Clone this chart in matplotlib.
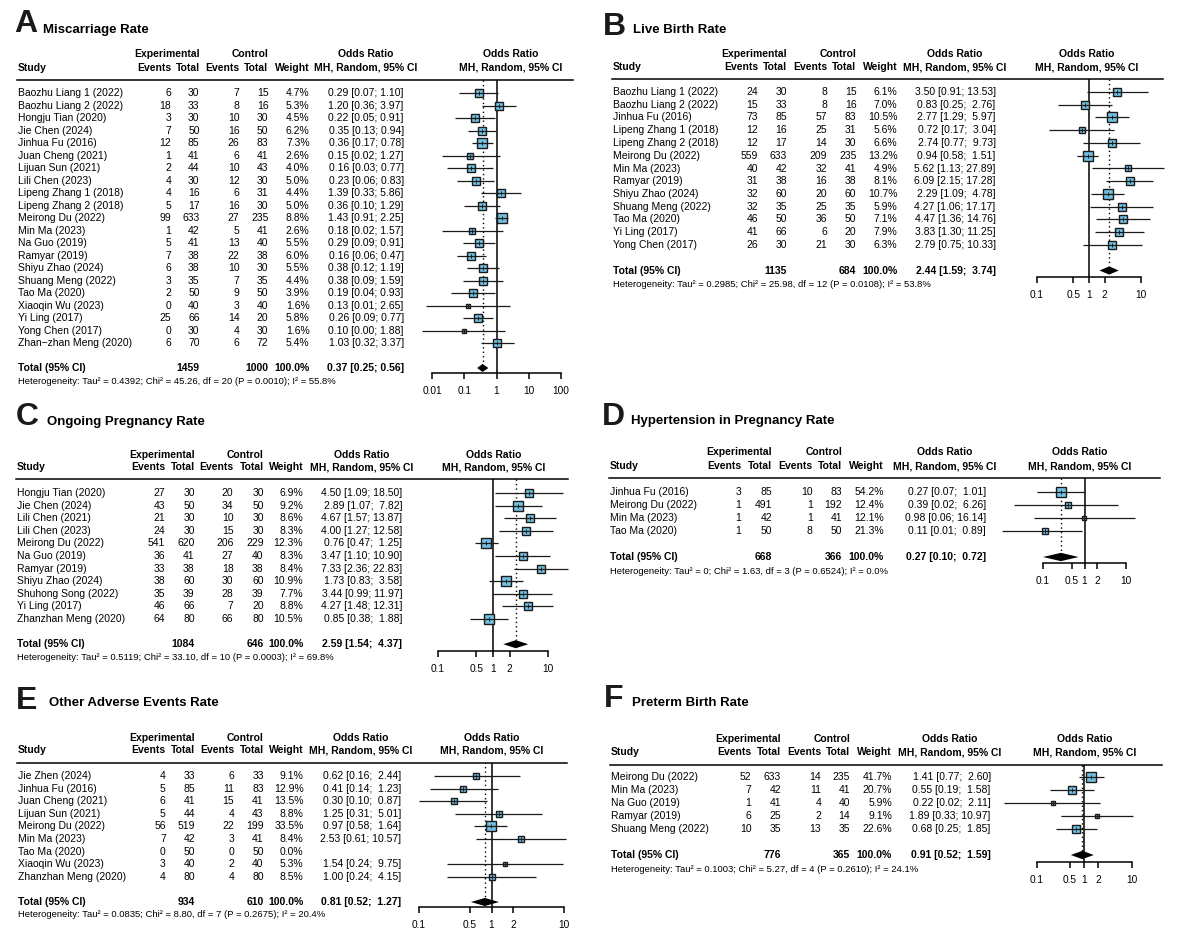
import numpy as np
import matplotlib
matplotlib.use('Agg')
import matplotlib.pyplot as plt
import matplotlib.transforms as mtransforms
from matplotlib.lines import Line2D
from matplotlib.ticker import NullLocator, FixedLocator, FixedFormatter

plt.rcParams['font.family'] = ['Liberation Sans', 'DejaVu Sans']

# ---------------- DATA ----------------
# Panel A: Miscarriage Rate
a_studies = ["Baozhu Liang 1 (2022)", "Baozhu Liang 2 (2022)", "Hongju Tian (2020)", "Jie Chen (2024)",
             "Jinhua Fu (2016)", "Juan Cheng (2021)", "Lijuan Sun (2021)", "Lili Chen (2023)",
             "Lipeng Zhang 1 (2018)", "Lipeng Zhang 2 (2018)", "Meirong Du (2022)", "Min Ma (2023)",
             "Na Guo (2019)", "Ramyar (2019)", "Shiyu Zhao (2024)", "Shuang Meng (2022)", "Tao Ma (2020)",
             "Xiaoqin Wu (2023)", "Yi Ling (2017)", "Yong Chen (2017)", "Zhan\u2212zhan Meng (2020)"]
a_exp_events = [6, 18, 3, 7, 12, 1, 2, 4, 4, 5, 99, 1, 5, 7, 6, 3, 2, 0, 25, 0, 6]
a_exp_total = [30, 33, 30, 50, 85, 41, 44, 30, 16, 17, 633, 42, 41, 38, 38, 35, 50, 40, 66, 30, 70]
a_ctl_events = [7, 8, 10, 16, 26, 6, 10, 12, 6, 16, 27, 5, 13, 22, 10, 7, 9, 3, 14, 4, 6]
a_ctl_total = [15, 16, 30, 50, 83, 41, 43, 30, 31, 30, 235, 41, 40, 38, 30, 35, 50, 40, 20, 30, 72]
a_weight = [4.7, 5.3, 4.5, 6.2, 7.3, 2.6, 4.0, 5.0, 4.4, 5.0, 8.8, 2.6, 5.5, 6.0, 5.5, 4.4, 3.9, 1.6, 5.8, 1.6, 5.4]
a_or = [0.29, 1.20, 0.22, 0.35, 0.36, 0.15, 0.16, 0.23, 1.39, 0.36, 1.43, 0.18, 0.29, 0.16, 0.38, 0.38, 0.19, 0.13, 0.26, 0.10, 1.03]
a_lo = [0.07, 0.36, 0.05, 0.13, 0.17, 0.02, 0.03, 0.06, 0.33, 0.10, 0.91, 0.02, 0.09, 0.06, 0.12, 0.09, 0.04, 0.0066, 0.09, 0.0049, 0.32]
a_hi = [1.10, 3.97, 0.91, 0.94, 0.78, 1.27, 0.77, 0.83, 5.86, 1.29, 2.25, 1.57, 0.91, 0.47, 1.19, 1.59, 0.93, 2.65, 0.77, 1.88, 3.37]
a_totals = [1459, 1000]
a_pooled = [0.37, 0.25, 0.56]
a_het = ["0.4392", 45.26, 20, 0.0010, 55.8]
a_ticks = [0.01, 0.1, 1, 10, 100]

# Panel B: Live Birth Rate
b_studies = ["Baozhu Liang 1 (2022)", "Baozhu Liang 2 (2022)", "Jinhua Fu (2016)", "Lipeng Zhang 1 (2018)",
             "Lipeng Zhang 2 (2018)", "Meirong Du (2022)", "Min Ma (2023)", "Ramyar (2019)", "Shiyu Zhao (2024)",
             "Shuang Meng (2022)", "Tao Ma (2020)", "Yi Ling (2017)", "Yong Chen (2017)"]
b_exp_events = [24, 15, 73, 12, 12, 559, 40, 31, 32, 32, 46, 41, 26]
b_exp_total = [30, 33, 85, 16, 17, 633, 42, 38, 60, 35, 50, 66, 30]
b_ctl_events = [8, 8, 57, 25, 14, 209, 32, 16, 20, 25, 36, 6, 21]
b_ctl_total = [15, 16, 83, 31, 30, 235, 41, 38, 60, 35, 50, 20, 30]
b_weight = [6.1, 7.0, 10.5, 5.6, 6.6, 13.2, 4.9, 8.1, 10.7, 5.9, 7.1, 7.9, 6.3]
b_or = [3.50, 0.83, 2.77, 0.72, 2.74, 0.94, 5.62, 6.09, 2.29, 4.27, 4.47, 3.83, 2.79]
b_lo = [0.91, 0.25, 1.29, 0.17, 0.77, 0.58, 1.13, 2.15, 1.09, 1.06, 1.36, 1.30, 0.75]
b_hi = [13.53, 2.76, 5.97, 3.04, 9.73, 1.51, 27.89, 17.28, 4.78, 17.17, 14.76, 11.25, 10.33]
b_totals = [1135, 684]
b_pooled = [2.44, 1.59, 3.74]
b_het = ["0.2985", 25.98, 12, 0.0108, 53.8]
b_ticks = [0.1, 0.5, 1, 2, 10]

# Panel C: Ongoing Pregnancy Rate
c_studies = ["Hongju Tian (2020)", "Jie Chen (2024)", "Lili Chen (2021)", "Lili Chen (2023)", "Meirong Du (2022)",
             "Na Guo (2019)", "Ramyar (2019)", "Shiyu Zhao (2024)", "Shuhong Song (2022)", "Yi Ling (2017)",
             "Zhanzhan Meng (2020)"]
c_exp_events = [27, 43, 21, 24, 541, 36, 33, 38, 35, 46, 64]
c_exp_total = [30, 50, 30, 30, 620, 41, 38, 60, 39, 66, 80]
c_ctl_events = [20, 34, 10, 15, 206, 27, 18, 30, 28, 7, 66]
c_ctl_total = [30, 50, 30, 30, 229, 40, 38, 60, 39, 20, 80]
c_weight = [6.9, 9.2, 8.6, 8.3, 12.3, 8.3, 8.4, 10.9, 7.7, 8.8, 10.5]
c_or = [4.50, 2.89, 4.67, 4.00, 0.76, 3.47, 7.33, 1.73, 3.44, 4.27, 0.85]
c_lo = [1.09, 1.07, 1.57, 1.27, 0.47, 1.10, 2.36, 0.83, 0.99, 1.48, 0.38]
c_hi = [18.50, 7.82, 13.87, 12.58, 1.25, 10.90, 22.83, 3.58, 11.97, 12.31, 1.88]
c_totals = [1084, 646]
c_pooled = [2.59, 1.54, 4.37]
c_het = ["0.5119", 33.10, 10, 0.0003, 69.8]
c_ticks = [0.1, 0.5, 1, 2, 10]

# Panel D: Hypertension in Pregnancy Rate
d_studies = ["Jinhua Fu (2016)", "Meirong Du (2022)", "Min Ma (2023)", "Tao Ma (2020)"]
d_exp_events = [3, 1, 1, 1]
d_exp_total = [85, 491, 42, 50]
d_ctl_events = [10, 1, 1, 8]
d_ctl_total = [83, 192, 41, 50]
d_weight = [54.2, 12.4, 12.1, 21.3]
d_or = [0.27, 0.39, 0.98, 0.11]
d_lo = [0.07, 0.02, 0.06, 0.01]
d_hi = [1.01, 6.26, 16.14, 0.89]
d_totals = [668, 366]
d_pooled = [0.27, 0.10, 0.72]
d_het = ["0", 1.63, 3, 0.6524, 0.0]
d_ticks = [0.1, 0.5, 1, 2, 10]

# Panel E: Other Adverse Events Rate
e_studies = ["Jie Zhen (2024)", "Jinhua Fu (2016)", "Juan Cheng (2021)", "Lijuan Sun (2021)", "Meirong Du (2022)",
             "Min Ma (2023)", "Tao Ma (2020)", "Xiaoqin Wu (2023)", "Zhanzhan Meng (2020)"]
e_exp_events = [4, 5, 6, 5, 56, 7, 0, 3, 4]
e_exp_total = [33, 85, 41, 44, 519, 42, 50, 40, 80]
e_ctl_events = [6, 11, 15, 4, 22, 3, 0, 2, 4]
e_ctl_total = [33, 83, 41, 43, 199, 41, 50, 40, 80]
e_weight = [9.1, 12.9, 13.5, 8.8, 33.5, 8.4, 0.0, 5.3, 8.5]
e_or = [0.62, 0.41, 0.30, 1.25, 0.97, 2.53, np.nan, 1.54, 1.00]
e_lo = [0.16, 0.14, 0.10, 0.31, 0.58, 0.61, np.nan, 0.24, 0.24]
e_hi = [2.44, 1.23, 0.87, 5.01, 1.64, 10.57, np.nan, 9.75, 4.15]
e_totals = [934, 610]
e_pooled = [0.81, 0.52, 1.27]
e_het = ["0.0835", 8.80, 7, 0.2675, 20.4]
e_ticks = [0.1, 0.5, 1, 2, 10]

# Panel F: Preterm Birth Rate
f_studies = ["Meirong Du (2022)", "Min Ma (2023)", "Na Guo (2019)", "Ramyar (2019)", "Shuang Meng (2022)"]
f_exp_events = [52, 7, 1, 6, 10]
f_exp_total = [633, 42, 41, 25, 35]
f_ctl_events = [14, 11, 4, 2, 13]
f_ctl_total = [235, 41, 40, 14, 35]
f_weight = [41.7, 20.7, 5.9, 9.1, 22.6]
f_or = [1.41, 0.55, 0.22, 1.89, 0.68]
f_lo = [0.77, 0.19, 0.02, 0.33, 0.25]
f_hi = [2.60, 1.58, 2.11, 10.97, 1.85]
f_totals = [776, 365]
f_pooled = [0.91, 0.52, 1.59]
f_het = ["0.1003", 5.27, 4, 0.2610, 24.1]
f_ticks = [0.1, 0.5, 1, 2, 10]

# ---------------- LAYOUT (pixels) ----------------
W, H = 1184, 946
fig = plt.figure(figsize=(W / 100, H / 100), dpi=100)

def fx(x):
    return x / W

def fy(y):
    return 1 - y / H

LAYOUT = {
    'A': dict(study=18, ee=171, et=199.6, ce=239.5, ct=268.5, w=309.6, ci=403.8, ort=366, orp=510.7,
              h1=54, h2=68, rule=80, rx0=17, rx1=572.5, y0=93, dy=12.5, het=381, axis=373,
              px0=432, px1=561, letter=(14, 24), title=(42.6, 30)),
    'B': dict(study=612.6, ee=758, et=787, ce=827, ct=856.4, w=897.5, ci=995.7, ort=955, orp=1087,
              h1=54, h2=67, rule=79, rx0=612, rx1=1163, y0=92, dy=12.75, het=284, axis=277,
              px0=1037, px1=1141, letter=(603, 27), title=(632.6, 30)),
    'C': dict(study=17, ee=165, et=194.7, ce=233.5, ct=263.7, w=303.2, ci=402.3, ort=361.6, orp=493.8,
              h1=455, h2=467, rule=479.5, rx0=16, rx1=568, y0=493, dy=12.6, het=657, axis=651,
              px0=438, px1=548, letter=(16, 417), title=(47, 422)),
    'D': dict(study=609.6, ee=741, et=772, ce=812.6, ct=842, w=884, ci=986, ort=945, orp=1080,
              h1=452, h2=466, rule=478, rx0=609, rx1=1160, y0=492, dy=13, het=572, axis=563,
              px0=1043, px1=1126, letter=(602, 417), title=(630.8, 421)),
    'E': dict(study=18, ee=165.7, et=195, ce=234.3, ct=263.7, w=303.6, ci=401, ort=360.6, orp=492,
              h1=738, h2=750, rule=762.5, rx0=17, rx1=567, y0=776, dy=12.6, het=914, axis=907,
              px0=419, px1=564, letter=(16, 701), title=(49, 703)),
    'F': dict(study=610.8, ee=751.5, et=781, ce=821, ct=850, w=892, ci=990.8, ort=950, orp=1085,
              h1=739, h2=752, rule=765, rx0=610, rx1=1162, y0=777, dy=13, het=869, axis=862,
              px0=1037, px1=1131.5, letter=(604, 699), title=(631.5, 703)),
}

FS_ROW = 7.5
FS_HET = 6.8
FS_TICK = 7.3
SQ_COLOR = '#72C1E4'
DARK = '#1a1a1a'


def fmt_ci(est, lo, hi, pad):
    if np.isnan(est):
        return ""
    if pad:
        return f"{est:.2f} [{lo:.2f}; {hi:>5.2f}]"
    return f"{est:.2f} [{lo:.2f}; {hi:.2f}]"


def draw_panel(key, title, studies, ee, et, ce, ct, wt, est, lo, hi, totals, pooled, het, ticks):
    L = LAYOUT[key]
    n = len(studies)
    y0, dy = L['y0'], L['dy']
    ax = fig.add_axes([fx(L['px0']), fy(L['axis']), (L['px1'] - L['px0']) / W, (L['axis'] - L['rule']) / H])
    ax.set_xscale('log')
    ax.set_xlim(ticks[0], ticks[-1])
    ytop = (L['rule'] - y0) / dy
    ax.set_ylim((L['axis'] - y0) / dy, ytop)
    ax.patch.set_visible(False)
    for s in ['top', 'left', 'right']:
        ax.spines[s].set_visible(False)
    ax.spines['bottom'].set_linewidth(1.1)
    ax.xaxis.set_major_locator(FixedLocator(ticks))
    ax.xaxis.set_major_formatter(FixedFormatter(['%g' % t for t in ticks]))
    ax.xaxis.set_minor_locator(NullLocator())
    ax.set_yticks([])
    ax.tick_params(axis='x', direction='out', length=4.5, width=1.1, labelsize=FS_TICK, pad=5)

    tr = mtransforms.blended_transform_factory(fig.transFigure, ax.transData)
    pad = any((not np.isnan(h)) and h >= 10 for h in hi) or pooled[2] >= 10
    wmax = max(wt)

    # reference line at 1
    ax.axvline(1, color='black', lw=1.1, zorder=1)
    T = n + 1
    hd = 0.32
    ax.plot([pooled[0], pooled[0]], [ytop, T - hd], color='black', lw=1.0,
            linestyle=(0, (1, 2.2)), zorder=1)

    for i in range(n):
        ax.text(fx(L['study']), i, studies[i], transform=tr, ha='left', va='center', fontsize=FS_ROW)
        ax.text(fx(L['ee']), i, str(ee[i]), transform=tr, ha='right', va='center', fontsize=FS_ROW)
        ax.text(fx(L['et']), i, str(et[i]), transform=tr, ha='right', va='center', fontsize=FS_ROW)
        ax.text(fx(L['ce']), i, str(ce[i]), transform=tr, ha='right', va='center', fontsize=FS_ROW)
        ax.text(fx(L['ct']), i, str(ct[i]), transform=tr, ha='right', va='center', fontsize=FS_ROW)
        ax.text(fx(L['w']), i, f"{wt[i]:.1f}%", transform=tr, ha='right', va='center', fontsize=FS_ROW)
        ax.text(fx(L['ci']), i, fmt_ci(est[i], lo[i], hi[i], pad), transform=tr, ha='right',
                va='center', fontsize=FS_ROW)
        if not np.isnan(est[i]):
            ms = 7.6 * np.sqrt(wt[i] / wmax)
            ax.plot([est[i]], [i], marker='s', ms=ms, mfc=SQ_COLOR, mec=DARK, mew=1.0,
                    linestyle='none', zorder=3, clip_on=False)
            ax.plot([lo[i], hi[i]], [i, i], color=DARK, lw=0.9, zorder=4, clip_on=False,
                    solid_capstyle='butt')
            ax.plot([est[i]], [i], marker='|', ms=3, mew=0.7, color=DARK, zorder=5, clip_on=False)

    # total row
    bold = dict(fontsize=FS_ROW, fontweight='bold', va='center', transform=tr)
    ax.text(fx(L['study']), T, "Total (95% CI)", ha='left', **bold)
    ax.text(fx(L['et']), T, str(totals[0]), ha='right', **bold)
    ax.text(fx(L['ct']), T, str(totals[1]), ha='right', **bold)
    ax.text(fx(L['w']), T, "100.0%", ha='right', **bold)
    ax.text(fx(L['ci']), T, fmt_ci(pooled[0], pooled[1], pooled[2], pad), ha='right', **bold)
    ax.fill([pooled[1], pooled[0], pooled[2], pooled[0]], [T, T - hd, T, T + hd],
            color='black', lw=0, zorder=5, clip_on=False)

    tau, chi, df, p, i2 = het
    het_txt = (f"Heterogeneity: Tau\u00b2 = {tau}; Chi\u00b2 = {chi:.2f}, df = {df} "
               f"(P = {p:.4f}); I\u00b2 = {i2:.1f}%")
    fig.text(fx(L['study']), fy(L['het']), het_txt, ha='left', va='center', fontsize=FS_HET)

    # headers
    hb = dict(fontsize=FS_ROW, fontweight='bold', va='center')
    fig.text(fx(L['et']), fy(L['h1']), "Experimental", ha='right', **hb)
    fig.text(fx(L['ct']), fy(L['h1']), "Control", ha='right', **hb)
    fig.text(fx(L['ort']), fy(L['h1']), "Odds Ratio", ha='center', **hb)
    fig.text(fx(L['orp']), fy(L['h1']), "Odds Ratio", ha='center', **hb)
    fig.text(fx(L['study']), fy(L['h2']), "Study", ha='left', **hb)
    fig.text(fx(L['ee']), fy(L['h2']), "Events", ha='right', **hb)
    fig.text(fx(L['et']), fy(L['h2']), "Total", ha='right', **hb)
    fig.text(fx(L['ce']), fy(L['h2']), "Events", ha='right', **hb)
    fig.text(fx(L['ct']), fy(L['h2']), "Total", ha='right', **hb)
    fig.text(fx(L['w']), fy(L['h2']), "Weight", ha='right', **hb)
    fig.text(fx(L['ort']), fy(L['h2']), "MH, Random, 95% CI", ha='center', **hb)
    fig.text(fx(L['orp']), fy(L['h2']), "MH, Random, 95% CI", ha='center', **hb)

    fig.add_artist(Line2D([fx(L['rx0']), fx(L['rx1'])], [fy(L['rule'])] * 2,
                          transform=fig.transFigure, color='black', lw=1.1))

    # letter and title
    lx, ly = L['letter']
    fig.text(fx(lx), fy(ly), key, ha='left', va='center', fontsize=23, fontweight='bold', color='#1a1a1a')
    tx, ty = L['title']
    fig.text(fx(tx), fy(ty), title, ha='left', va='center', fontsize=9.5, fontweight='bold')


draw_panel('A', "Miscarriage Rate", a_studies, a_exp_events, a_exp_total, a_ctl_events, a_ctl_total,
           a_weight, a_or, a_lo, a_hi, a_totals, a_pooled, a_het, a_ticks)
draw_panel('B', "Live Birth Rate", b_studies, b_exp_events, b_exp_total, b_ctl_events, b_ctl_total,
           b_weight, b_or, b_lo, b_hi, b_totals, b_pooled, b_het, b_ticks)
draw_panel('C', "Ongoing Pregnancy Rate", c_studies, c_exp_events, c_exp_total, c_ctl_events, c_ctl_total,
           c_weight, c_or, c_lo, c_hi, c_totals, c_pooled, c_het, c_ticks)
draw_panel('D', "Hypertension in Pregnancy Rate", d_studies, d_exp_events, d_exp_total, d_ctl_events,
           d_ctl_total, d_weight, d_or, d_lo, d_hi, d_totals, d_pooled, d_het, d_ticks)
draw_panel('E', "Other Adverse Events Rate", e_studies, e_exp_events, e_exp_total, e_ctl_events, e_ctl_total,
           e_weight, e_or, e_lo, e_hi, e_totals, e_pooled, e_het, e_ticks)
draw_panel('F', "Preterm Birth Rate", f_studies, f_exp_events, f_exp_total, f_ctl_events, f_ctl_total,
           f_weight, f_or, f_lo, f_hi, f_totals, f_pooled, f_het, f_ticks)

fig.savefig('out.png', dpi=100, facecolor='white')
